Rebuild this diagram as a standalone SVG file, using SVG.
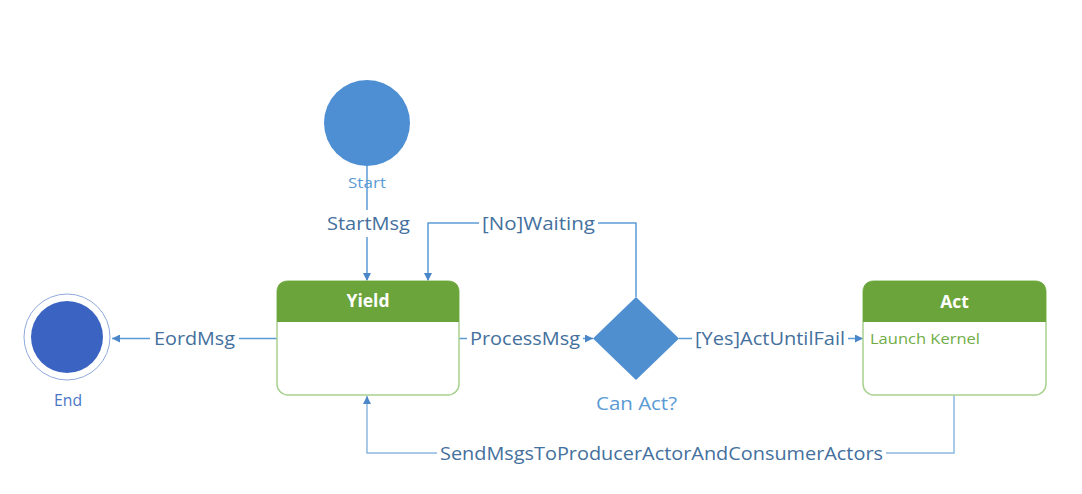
<svg xmlns="http://www.w3.org/2000/svg" width="1082" height="494" viewBox="0 0 1082 494">
<style>
.conn{fill:none;stroke:#5b9bd5;stroke-width:1.5}
.lbl{font-family:'Open Sans','Noto Sans',sans-serif;font-size:18.5px;fill:#44709d;text-anchor:middle}
.bg{fill:#ffffff}
.hdr{fill:#6aa43a}
.box{fill:#ffffff;stroke:#a9d18e;stroke-width:1.5}
.title{font-family:'Open Sans','Noto Sans',sans-serif;font-weight:bold;font-size:17.5px;fill:#ffffff;text-anchor:middle}
.nlbl{font-family:'Open Sans','Noto Sans',sans-serif;font-size:15px;text-anchor:middle}
</style>
<defs>
<marker id="arr" viewBox="0 0 10 10" refX="10" refY="5" markerWidth="9" markerHeight="8" markerUnits="userSpaceOnUse" orient="auto">
<path d="M0,0 L10,5 L0,10 z" fill="#4a86c8"/>
</marker>
</defs>
<rect width="1082" height="494" fill="#ffffff"/>

<g id="connectors">
<path class="conn" d="M367,164 V281" marker-end="url(#arr)"/>
<path class="conn" d="M636,297 V223 H428 V281" marker-end="url(#arr)"/>
<path class="conn" d="M459,338.5 H593" marker-end="url(#arr)"/>
<path class="conn" d="M679,338.5 H863" marker-end="url(#arr)"/>
<path class="conn" d="M277,338.5 H112" marker-end="url(#arr)"/>
<path class="conn" d="M954,395 V453 H367 V396" marker-end="url(#arr)" style="stroke:#8db8e2"/>
<rect class="bg" x="323" y="210" width="88" height="27"/>
<rect class="bg" x="479" y="210" width="119" height="27"/>
<rect class="bg" x="467" y="325" width="116" height="27"/>
<rect class="bg" x="692" y="325" width="156" height="27"/>
<rect class="bg" x="150" y="325" width="89" height="27"/>
<rect class="bg" x="437" y="440" width="449" height="27"/>
<text class="lbl" x="368.5" y="230" textLength="83" lengthAdjust="spacingAndGlyphs">StartMsg</text>
<text class="lbl" x="538.5" y="230" textLength="113" lengthAdjust="spacingAndGlyphs">[No]Waiting</text>
<text class="lbl" x="525" y="345" textLength="110" lengthAdjust="spacingAndGlyphs">ProcessMsg</text>
<text class="lbl" x="770" y="345" textLength="150" lengthAdjust="spacingAndGlyphs">[Yes]ActUntilFail</text>
<text class="lbl" x="194.5" y="345" textLength="81" lengthAdjust="spacingAndGlyphs">EordMsg</text>
<text class="lbl" x="661.5" y="460" textLength="443" lengthAdjust="spacingAndGlyphs">SendMsgsToProducerActorAndConsumerActors</text>
</g>

<g id="start">
<circle cx="367" cy="123" r="43" fill="#4e8fd3"/>
<text class="nlbl" x="367" y="188" fill="#5b9bd5" textLength="38" lengthAdjust="spacingAndGlyphs">Start</text>
</g>

<g id="end">
<circle cx="67" cy="337" r="43" fill="#ffffff" stroke="#8fa9dc" stroke-width="1"/>
<circle cx="67" cy="337" r="36" fill="#3b64c2"/>
<text class="nlbl" x="68" y="406" fill="#4a76c8" style="font-size:17px" textLength="28" lengthAdjust="spacingAndGlyphs">End</text>
</g>

<g id="yield">
<rect class="box" x="277" y="281" width="182" height="114" rx="11"/>
<path class="hdr" d="M277,322 V292 Q277,281 288,281 H448 Q459,281 459,292 V322 Z"/>
<text class="title" x="368" y="307">Yield</text>
</g>

<g id="canact">
<polygon points="636,297 679,338.5 636,380 593,338.5" fill="#4f8fd0"/>
<text class="nlbl" x="636.5" y="410" fill="#5b9bd5" style="font-size:18px" textLength="81" lengthAdjust="spacingAndGlyphs">Can Act?</text>
</g>

<g id="act">
<rect class="box" x="863" y="281" width="183" height="114" rx="11"/>
<path class="hdr" d="M863,322 V292 Q863,281 874,281 H1035 Q1046,281 1046,292 V322 Z"/>
<text class="title" x="954.5" y="308">Act</text>
<text x="870" y="344" font-family="'Open Sans','Noto Sans',sans-serif" font-size="14.5" fill="#70ad47" textLength="110" lengthAdjust="spacingAndGlyphs">Launch Kernel</text>
</g>
</svg>
